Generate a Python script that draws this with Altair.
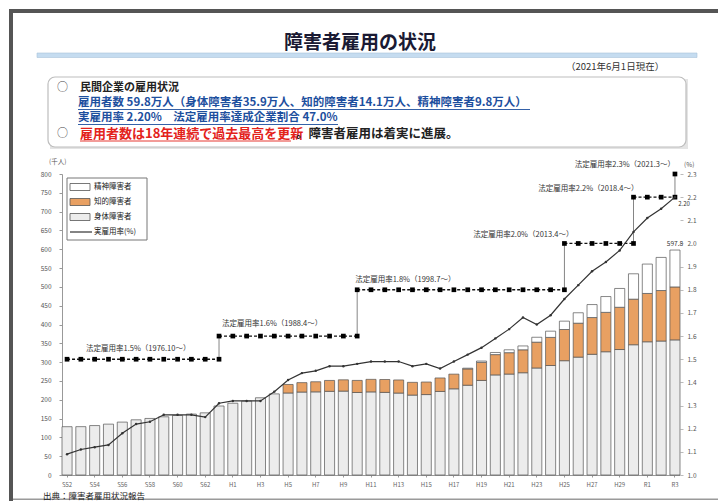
import altair as alt
import pandas as pd

FONT = "Noto Sans CJK JP"

# ---------------- data ----------------
years = list(range(1977, 2022))
x_labels = ["S52", "S53", "S54", "S55", "S56", "S57", "S58", "S59", "S60", "S61", "S62", "S63",
            "H1", "H2", "H3", "H4", "H5", "H6", "H7", "H8", "H9", "H10", "H11", "H12", "H13",
            "H14", "H15", "H16", "H17", "H18", "H19", "H20", "H21", "H22", "H23", "H24", "H25",
            "H26", "H27", "H28", "H29", "H30", "R1", "R2", "R3"]

# employed persons (thousand)
physical = [128.4, 128.5, 131.4, 135.2, 140.6, 146.7, 150.3, 154.7, 158.3, 161.9, 165.2,
            183.4, 190.7, 196.5, 205.3, 215.6,
            218.0, 220.5, 221.0, 222.4, 223.0, 219.3, 220.9, 219.6, 217.8, 212.4, 213.8,
            222.1, 229.1, 238.6, 251.3, 266.0, 268.3, 271.8,
            284.4, 291.0, 303.8, 313.3, 320.8, 327.6, 333.5, 346.2, 354.1, 356.1, 359.1]
intellectual = [0, 0, 0, 0, 0, 0, 0, 0, 0, 0, 0, 0, 0, 0, 0, 0,
                22.6, 25.0, 26.8, 28.9, 30.0, 32.1, 33.3, 34.2, 34.8, 33.9, 33.3,
                35.8, 39.0, 43.4, 48.2, 54.0, 56.8, 61.0,
                68.7, 74.7, 82.9, 90.2, 97.7, 104.7, 112.3, 121.2, 128.4, 134.2, 140.7]
mental = [0, 0, 0, 0, 0, 0, 0, 0, 0, 0, 0, 0, 0, 0, 0, 0, 0, 0, 0, 0, 0, 0, 0, 0, 0, 0, 0, 0, 0,
          1.9, 3.4, 5.6, 7.7, 10.2, 13.0, 16.6, 22.2, 27.7, 34.5, 42.0, 50.0, 67.4, 78.1, 88.0, 98.1]
actual_rate = [1.09, 1.11, 1.12, 1.13, 1.18, 1.22, 1.23, 1.26, 1.26, 1.26, 1.25,
               1.31, 1.32, 1.32, 1.32, 1.36,
               1.41, 1.44, 1.45, 1.47, 1.47, 1.48, 1.49, 1.49, 1.49, 1.47, 1.48,
               1.46, 1.49, 1.52, 1.55, 1.59, 1.63, 1.68,
               1.65, 1.69, 1.76, 1.82, 1.88, 1.92, 1.97, 2.05, 2.11, 2.15, 2.20]
total_last = 597.8

types = ["身体障害者", "知的障害者", "精神障害者"]
type_colors = ["#ececec", "#E8A062", "#ffffff"]

legal_rates = [1.5, 1.6, 1.8, 2.0, 2.2, 2.3]
legal_start = [1977, 1988, 1998, 2013, 2018, 2021]
legal_end = [1988, 1998, 2013, 2018, 2021, 2021]
legal_texts = ["法定雇用率1.5%（1976.10～）", "法定雇用率1.6%（1988.4～）", "法定雇用率1.8%（1998.7～）",
               "法定雇用率2.0%（2013.4～）", "法定雇用率2.2%（2018.4～）", "法定雇用率2.3%（2021.3～）"]

left_ticks = [0, 50, 100, 150, 200, 250, 300, 350, 400, 450, 500, 550, 600, 650, 700, 750, 800]
right_ticks = [1.0, 1.1, 1.2, 1.3, 1.4, 1.5, 1.6, 1.7, 1.8, 1.9, 2.0, 2.1, 2.2, 2.3]

header_title = "障害者雇用の状況"
header_date = "（2021年6月1日現在）"
header_lines = ["民間企業の雇用状況",
                "雇用者数 59.8万人（身体障害者35.9万人、知的障害者14.1万人、精神障害者9.8万人）",
                "実雇用率 2.20%　法定雇用率達成企業割合 47.0%"]
header_red = "雇用者数は18年連続で過去最高を更新"
header_black = "。障害者雇用は着実に進展。"
source_text = "出典：障害者雇用状況報告"
legend_labels = ["精神障害者", "知的障害者", "身体障害者", "実雇用率(%)"]

# ---------------- tables ----------------
idx = {y: i for i, y in enumerate(years)}
rows = []
for i, y in enumerate(years):
    for k, (t, v) in enumerate(zip(types, [physical[i], intellectual[i], mental[i]])):
        if v > 0:
            rows.append({"label": x_labels[i], "type": t, "value": v, "ord": k})
bar_df = pd.DataFrame(rows)
rate_df = pd.DataFrame({"label": x_labels, "rate": actual_rate})

lp = []
for s, (r, a, b) in enumerate(zip(legal_rates, legal_start, legal_end)):
    for y in range(a, b + 1):
        lp.append({"label": x_labels[idx[y]], "rate": r, "seg": s})
legal_df = pd.DataFrame(lp)
conn_df = pd.DataFrame([{"label": x_labels[idx[legal_start[i]]], "r0": legal_rates[i - 1], "r1": legal_rates[i]}
                        for i in range(1, len(legal_rates))])
legal_lab_df = pd.DataFrame({"label": [x_labels[idx[y]] for y in legal_start], "rate": legal_rates,
                             "text": legal_texts, "i": list(range(6))})
last_df = pd.DataFrame({"label": [x_labels[-1]], "total": [total_last], "rate": [actual_rate[-1]]})

# ---------------- main chart ----------------
W, H = 618, 301
OX, OY = 62, 174
XS = alt.Scale(domain=x_labels, paddingInner=0.27, paddingOuter=0.0)
YL = alt.Scale(domain=[0, 800], nice=False, zero=True)
YR = alt.Scale(domain=[1.0, 2.3], nice=False, zero=False)

bars = alt.Chart(bar_df).mark_bar(stroke="#555", strokeWidth=0.7).encode(
    x=alt.X("label:O", scale=XS, axis=alt.Axis(values=x_labels[::2], title=None, labelAngle=0,
            labelFontSize=6, labelColor="#666", tickSize=2, tickColor="#999",
            domainColor="#999", labelPadding=4, labelFont=FONT)),
    y=alt.Y("value:Q", stack="zero", scale=YL,
            axis=alt.Axis(values=left_ticks, title=None, labelFontSize=6.5, labelColor="#555",
                          tickSize=3, tickColor="#999", domainColor="#999", grid=False,
                          labelPadding=8, labelFont=FONT)),
    color=alt.Color("type:N", scale=alt.Scale(domain=types, range=type_colors), legend=None),
    order=alt.Order("ord:Q", sort="ascending"),
)

total_lab = alt.Chart(last_df).mark_text(dy=-6, fontSize=6.5, font=FONT, color="#333").encode(
    x=alt.X("label:O", scale=alt.Scale(domain=x_labels)),
    y=alt.Y("total:Q", scale=YL, axis=None),
    text=alt.Text("total:Q", format=".1f"),
)

rate_line = alt.Chart(rate_df).mark_line(
    color="#333", strokeWidth=1.2,
    point=alt.OverlayMarkDef(size=6, filled=True, color="#333")).encode(
    x=alt.X("label:O", scale=alt.Scale(domain=x_labels)),
    y=alt.Y("rate:Q", scale=YR,
            axis=alt.Axis(orient="right", values=right_ticks, format=".1f", title=None,
                          labelFontSize=6.5, labelColor="#555", tickSize=3, tickColor="#bbb",
                          domain=False, grid=False, labelPadding=4, labelFont=FONT)),
)

rate_lab = alt.Chart(last_df).mark_text(dx=9, dy=7, fontSize=6, font=FONT, color="#333").encode(
    x=alt.X("label:O", scale=alt.Scale(domain=x_labels)),
    y=alt.Y("rate:Q", scale=YR, axis=None),
    text=alt.Text("rate:Q", format=".2f"),
)

conn = alt.Chart(conn_df).mark_rule(color="#777", strokeWidth=0.9).encode(
    x=alt.X("label:O", scale=alt.Scale(domain=x_labels)),
    y=alt.Y("r0:Q", scale=YR, axis=None),
    y2="r1:Q",
)

legal = alt.Chart(legal_df).mark_line(
    color="#111", strokeWidth=1.3, strokeDash=[3, 2],
    point=alt.OverlayMarkDef(shape="square", size=22, filled=True, color="#000")).encode(
    x=alt.X("label:O", scale=alt.Scale(domain=x_labels)),
    y=alt.Y("rate:Q", scale=YR, axis=None),
    detail="seg:N",
)

lab_style = [("left", 19, -10), ("left", 3, -12), ("left", -2, -10),
             ("right", 9, -8), ("right", 5, -8), ("right", 0, -9)]
legal_labs = []
for i, (al, dx, dy) in enumerate(lab_style):
    legal_labs.append(
        alt.Chart(legal_lab_df).transform_filter(alt.datum.i == i).mark_text(
            align=al, dx=dx, dy=dy, fontSize=7.5, font=FONT, color="#333").encode(
            x=alt.X("label:O", scale=alt.Scale(domain=x_labels)),
            y=alt.Y("rate:Q", scale=YR, axis=None),
            text="text:N"))

main = alt.layer(bars, total_lab, conn, legal, rate_line, rate_lab, *legal_labs).resolve_scale(y="independent")

# ---------------- decorations (pixel space, relative to plot origin) ----------------
def R(x1, y1, x2, y2, fill, stroke="transparent", sw=0):
    return {"x": x1 - OX, "y": y1 - OY, "x2": x2 - OX, "y2": y2 - OY, "fill": fill, "stroke": stroke, "sw": sw}

rect_rows = [
    R(9, 9, 718, 13, "#555555"),
    R(9, 9, 13, 501, "#555555"),
    R(13, 498.5, 718, 500, "#9a9a9a"),
    R(37, 53, 697, 57.5, "#c5dcf0", "#a9c3da", 0.6),
    R(50, 79, 688, 149, "#e4e4e4"),
    # legend box & swatches
    R(67, 178, 147, 240, "#ffffff", "#777", 1),
    R(70, 183.5, 90, 190.5, type_colors[2], "#555", 0.8),
    R(70, 198.5, 90, 205.5, type_colors[1], "#555", 0.8),
    R(70, 213.5, 90, 220.5, type_colors[0], "#555", 0.8),
]
rect_df = pd.DataFrame(rect_rows)
enc_rect = dict(
    x=alt.X("x:Q", scale=None), x2="x2:Q", y=alt.Y("y:Q", scale=None), y2="y2:Q",
    fill=alt.Fill("fill:N", scale=None), stroke=alt.Stroke("stroke:N", scale=None),
    strokeWidth=alt.StrokeWidth("sw:Q", scale=None))
rects = alt.Chart(rect_df).mark_rect().encode(**enc_rect)

box_df = pd.DataFrame([R(48, 77, 686, 147, "#ffffff", "#bdbdbd", 1.2)])
box = alt.Chart(box_df).mark_rect(cornerRadius=7).encode(**enc_rect)

def L(x1, x2, y, color, sw):
    return {"x": x1 - OX, "x2": x2 - OX, "y": y - OY, "color": color, "sw": sw}

rule_df = pd.DataFrame([
    L(78, 530, 109.5, "#1d4f9e", 0.9),
    L(78, 338, 124.5, "#1d4f9e", 0.9),
    L(80, 291, 141, "#e3221b", 0.9),
    L(70, 92, 232, "#333", 1.2),
])
rules = alt.Chart(rule_df).mark_rule().encode(
    x=alt.X("x:Q", scale=None), x2="x2:Q", y=alt.Y("y:Q", scale=None),
    color=alt.Color("color:N", scale=None), strokeWidth=alt.StrokeWidth("sw:Q", scale=None))

def T(text, x, y, size, color):
    return {"text": text, "x": x - OX, "y": y - OY, "size": size, "color": color}

bold_df = pd.DataFrame([
    T(header_title, 284, 43, 19, "#1a1a33"),
    T(header_lines[0], 80, 88, 11, "#222"),
    T(header_lines[1], 78, 102.5, 11.5, "#1d4f9e"),
    T(header_lines[2], 78, 117.5, 11.5, "#1d4f9e"),
    T(header_red, 80, 133.5, 13, "#e3221b"),
    T(header_black, 296, 133.5, 12.5, "#222"),
])
norm_df = pd.DataFrame([
    T(header_date, 566, 67, 9.5, "#333"),
    T("○", 57, 88, 11, "#444"),
    T("○", 57, 133.5, 11, "#444"),
    T(source_text, 43, 496, 8.5, "#222"),
    T("(千人)", 49, 162, 6.5, "#555"),
    T("(%)", 684, 165, 6.5, "#555"),
    T(legend_labels[0], 94, 187, 7.5, "#222"),
    T(legend_labels[1], 94, 202, 7.5, "#222"),
    T(legend_labels[2], 94, 217, 7.5, "#222"),
    T(legend_labels[3], 94, 232, 7.5, "#222"),
])
enc_text = dict(x=alt.X("x:Q", scale=None), y=alt.Y("y:Q", scale=None), text="text:N",
                size=alt.Size("size:Q", scale=None), color=alt.Color("color:N", scale=None))
bold_txt = alt.Chart(bold_df).mark_text(align="left", baseline="middle", font=FONT, fontWeight="bold").encode(**enc_text)
norm_txt = alt.Chart(norm_df).mark_text(align="left", baseline="middle", font=FONT).encode(**enc_text)

chart = alt.layer(rects, box, rules, bold_txt, norm_txt, main).resolve_scale(
    x="independent", y="independent", color="independent"
).properties(
    width=W, height=H,
    padding={"left": OX, "top": OY, "right": 718 - OX - W, "bottom": 501 - OY - H},
    autosize=alt.AutoSizeParams(type="none"),
    background="white",
).configure_view(stroke=None).configure_axis(labelFont=FONT)

chart.save("out.html", embed_options={"renderer": "svg", "actions": False})
